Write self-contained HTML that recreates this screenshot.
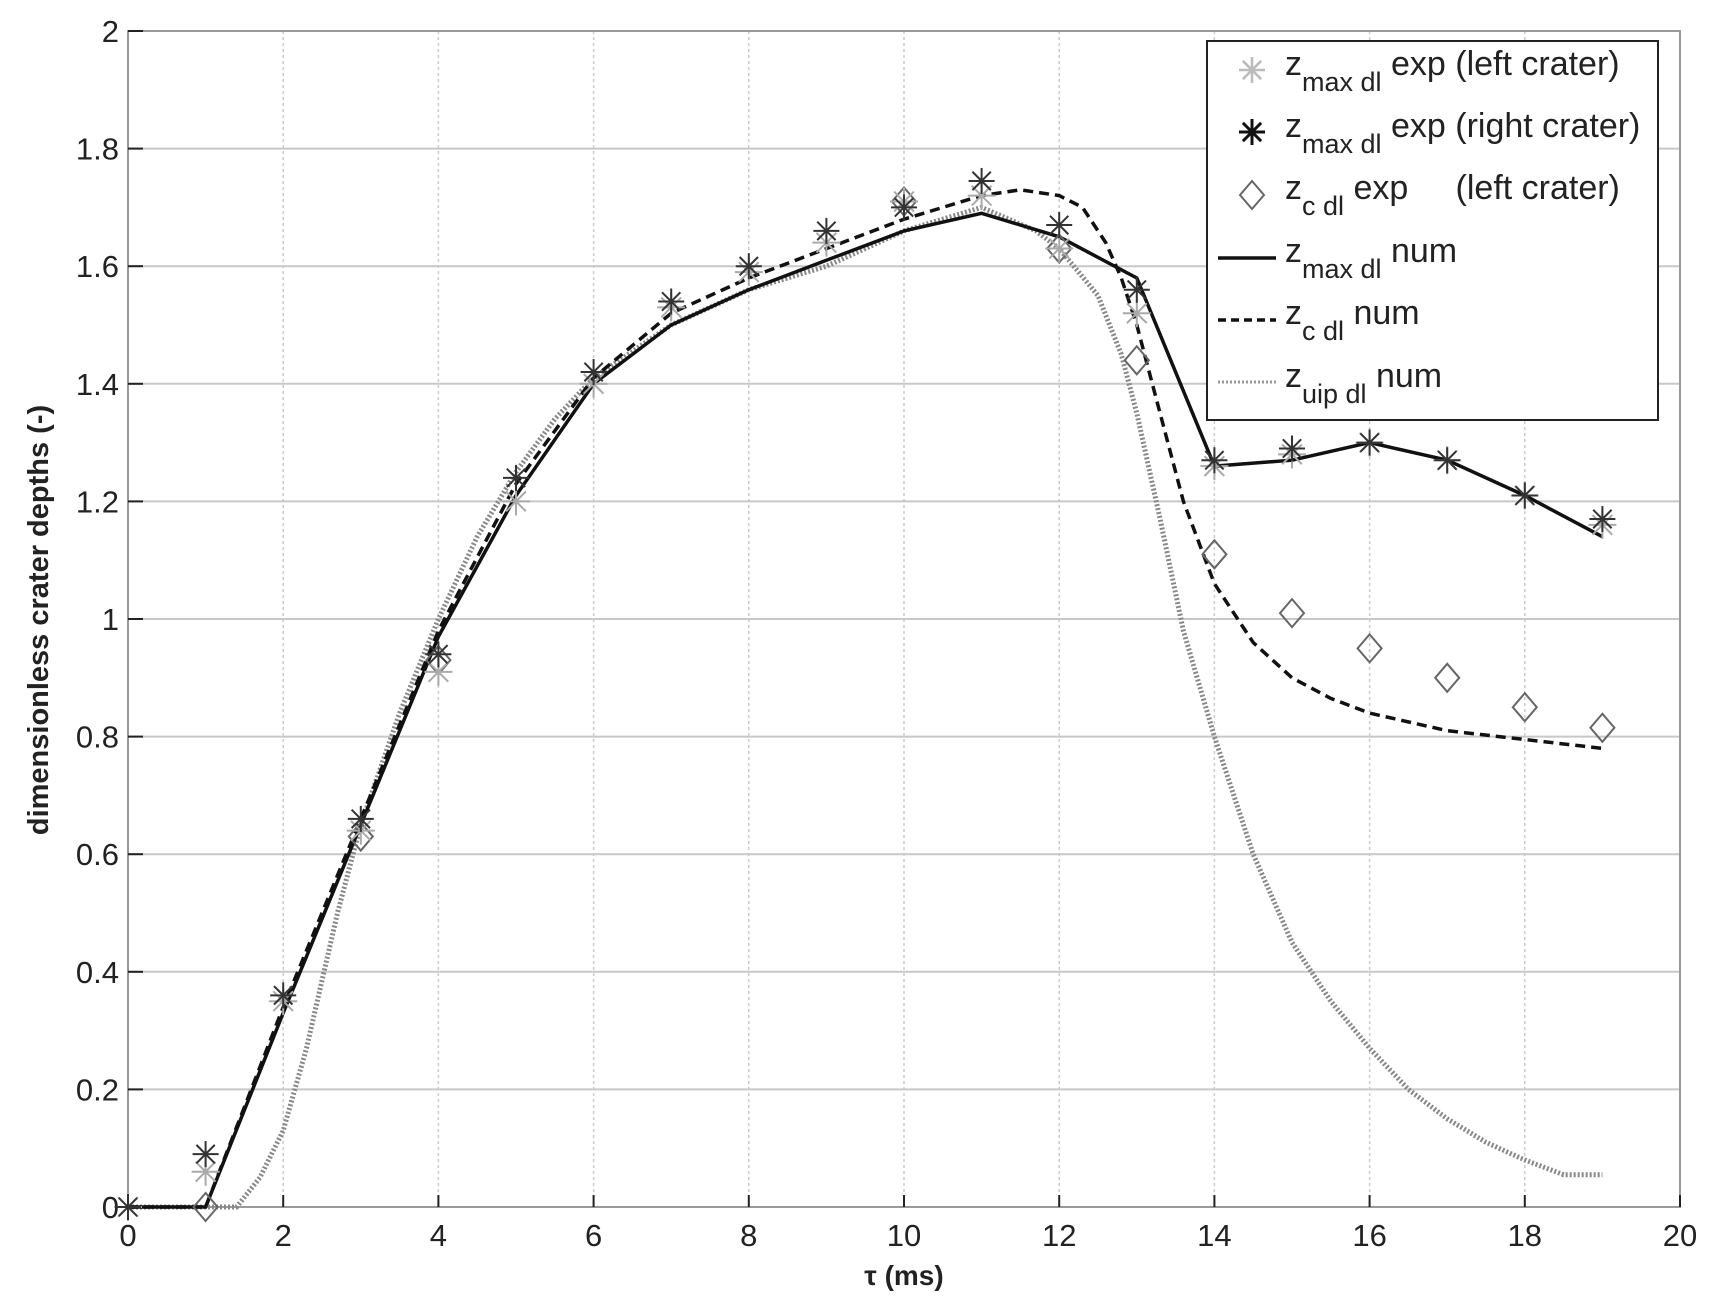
<!DOCTYPE html>
<html><head><meta charset="utf-8"><style>
html,body{margin:0;padding:0;background:#fff;}
svg{display:block;font-family:"Liberation Sans",sans-serif;}
</style></head><body>
<svg id="s" width="1719" height="1314" viewBox="0 0 1719 1314" xmlns="http://www.w3.org/2000/svg"></svg>
<script>
const S=document.getElementById('s');
const X=x=>128+77.6*x, Y=v=>1207-588*v;
let h='';
for(let i=0;i<=10;i++){const x=X(2*i);h+=`<line x1="${x}" y1="31" x2="${x}" y2="1207" stroke="#ccc" stroke-width="1.5" stroke-dasharray="3,3"/>`;}
for(let i=0;i<=10;i++){const y=Y(0.2*i);h+=`<line x1="128" y1="${y}" x2="${X(20)}" y2="${y}" stroke="#c8c8c8" stroke-width="2"/>`;}
h+=`<rect x="128" y="31" width="${X(20)-128}" height="1176" fill="none" stroke="#999" stroke-width="2"/>`;
for(let i=0;i<=10;i++){const y=Y(0.2*i);h+=`<line x1="128" y1="${y}" x2="143" y2="${y}" stroke="#222" stroke-width="2"/>`;
 const lbl=i==0?'0':i==5?'1':i==10?'2':(0.2*i).toFixed(1);
 h+=`<text x="119" y="${y+11}" font-size="31" text-anchor="end" fill="#222">${lbl}</text>`;}
for(let i=0;i<=10;i++){const x=X(2*i);h+=`<line x1="${x}" y1="1207" x2="${x}" y2="1195" stroke="#222" stroke-width="2"/>`;
 h+=`<text x="${x}" y="1246" font-size="31" text-anchor="middle" fill="#222">${2*i}</text>`;}
h+=`<text x="${X(10)}" y="1285" font-size="28" font-weight="bold" text-anchor="middle" fill="#222">τ (ms)</text>`;
h+=`<text transform="translate(48,620) rotate(-90)" font-size="29" font-weight="bold" text-anchor="middle" fill="#222">dimensionless crater depths (-)</text>`;
const P=a=>a.map(p=>X(p[0]).toFixed(1)+','+Y(p[1]).toFixed(1)).join(' ');
const uip=[[0,0],[1.4,0],[1.7,0.05],[2,0.13],[2.3,0.27],[2.7,0.5],[3,0.65],[3.5,0.84],[4,1.0],[4.5,1.14],[5,1.25],[5.5,1.34],[6,1.41],[7,1.5],[8,1.56],[9,1.6],[10,1.66],[11,1.7],[11.7,1.66],[12,1.63],[12.5,1.55],[12.8,1.45],[13,1.35],[13.3,1.17],[13.6,0.98],[14,0.8],[14.5,0.6],[15,0.45],[15.5,0.35],[16,0.27],[16.5,0.2],[17,0.15],[17.5,0.11],[18,0.08],[18.5,0.055],[19,0.055]];
h+=`<polyline points="${P(uip)}" fill="none" stroke="#888" stroke-width="5" stroke-dasharray="2,2"/>`;
const zc=[[0,0],[1,0],[2,0.34],[3,0.66],[4,0.98],[5,1.23],[6,1.41],[7,1.52],[8,1.58],[9,1.63],[10,1.68],[11,1.72],[11.5,1.73],[12,1.72],[12.3,1.70],[12.6,1.64],[12.8,1.58],[13,1.5],[13.2,1.4],[13.6,1.2],[14,1.06],[14.5,0.96],[15,0.9],[15.5,0.865],[16,0.84],[17,0.81],[18,0.795],[19,0.78]];
h+=`<polyline points="${P(zc)}" fill="none" stroke="#111" stroke-width="3.5" stroke-dasharray="10,6"/>`;
const zm=[[0,0],[1,0],[2,0.33],[3,0.65],[4,0.97],[5,1.21],[6,1.40],[7,1.50],[8,1.56],[9,1.61],[10,1.66],[11,1.69],[12,1.65],[13,1.58],[14,1.26],[15,1.27],[16,1.30],[17,1.27],[18,1.21],[19,1.14]];
h+=`<polyline points="${P(zm)}" fill="none" stroke="#111" stroke-width="3.5"/>`;
function star(x,y,c,r,w){let s='';for(let k=0;k<4;k++){const a=k*Math.PI/4;const dx=r*Math.cos(a),dy=r*Math.sin(a);s+=`<line x1="${x-dx}" y1="${y-dy}" x2="${x+dx}" y2="${y+dy}" stroke="${c}" stroke-width="${w}"/>`;}return s;}
function dia(x,y,c){return `<polygon points="${x},${y-14} ${x+12},${y} ${x},${y+14} ${x-12},${y}" fill="none" stroke="${c}" stroke-width="2"/>`;}
const L=[0,0.06,0.35,0.64,0.91,1.2,1.4,1.53,1.59,1.64,1.71,1.72,1.63,1.52,1.26,1.28,1.3,1.27,1.21,1.16];
const R=[0,0.09,0.36,0.66,0.94,1.24,1.42,1.54,1.6,1.66,1.7,1.745,1.67,1.56,1.27,1.29,1.3,1.27,1.21,1.17];
const D=[[1,0],[3,0.63],[4,0.93],[10,1.71],[12,1.63],[13,1.44],[14,1.11],[15,1.01],[16,0.95],[17,0.9],[18,0.85],[19,0.815]];
D.forEach(p=>h+=dia(X(p[0]),Y(p[1]),'#666'));
L.forEach((v,i)=>h+=star(X(i),Y(v),'#aaa',14,2));
R.forEach((v,i)=>h+=star(X(i),Y(v),'#333',13,2));
h+=`<rect x="1207" y="41" width="451" height="379" fill="#fff" stroke="#222" stroke-width="2"/>`;
h+=star(1252,70,'#bbb',13,2.5)+star(1252,132,'#111',13,3)+dia(1252,195,'#666');
h+=`<line x1="1218" y1="258" x2="1276" y2="258" stroke="#111" stroke-width="3.5"/>`;
h+=`<line x1="1218" y1="320" x2="1276" y2="320" stroke="#111" stroke-width="3.5" stroke-dasharray="8,5"/>`;
h+=`<line x1="1218" y1="382" x2="1276" y2="382" stroke="#999" stroke-width="3" stroke-dasharray="2,2"/>`;
const rows=[['max dl','exp (left crater)',75],['max dl','exp (right crater)',137],['c dl','exp &#160;&#160;&#160;&#160;(left crater)',199],['max dl','num',262],['c dl','num',324],['uip dl','num',387]];
rows.forEach(r=>{h+=`<text x="1285" y="${r[2]}" font-size="34" fill="#222">z<tspan font-size="27" dy="16">${r[0]}</tspan><tspan font-size="34" dy="-16"> ${r[1]}</tspan></text>`;});
S.innerHTML=h;
</script>
</body></html>
